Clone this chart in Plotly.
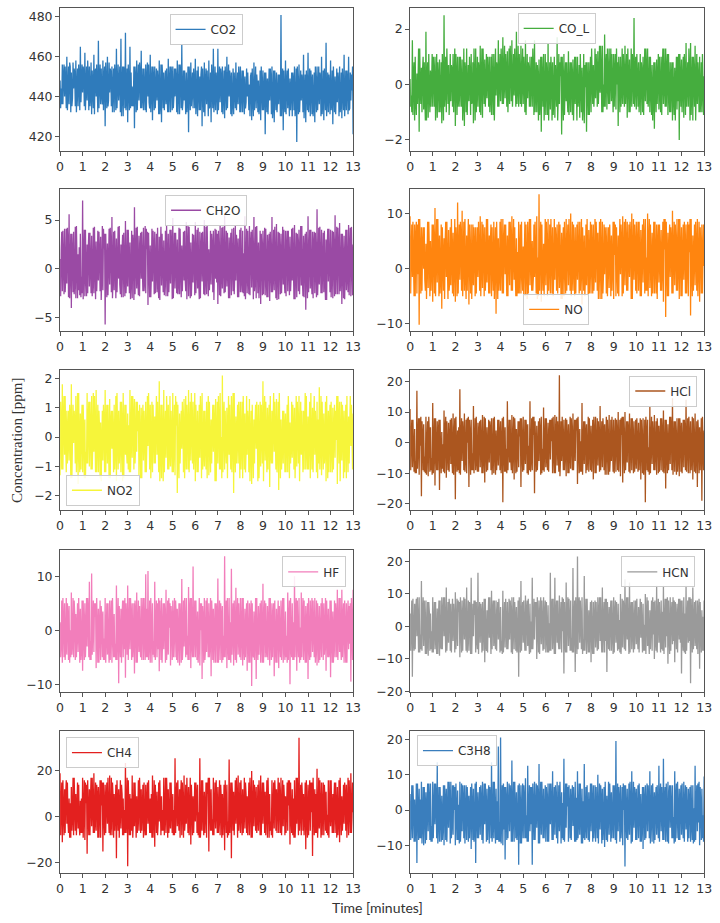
import plotly.graph_objects as go

# sampling grids (minutes): samples at t, t+0.025, t+0.05, t+0.075 for t = 0, 0.1, ..., 12.9 and a final one at 13
t_main = [round(i * 0.1, 3) for i in range(131)]
t_q1 = [round(i * 0.1 + 0.025, 3) for i in range(130)]
t_mid = [round(i * 0.1 + 0.05, 3) for i in range(130)]
t_q3 = [round(i * 0.1 + 0.075, 3) for i in range(130)]

names = ["CO2", "CO_L", "CH2O", "NO", "NO2", "HCl", "HF", "HCN", "CH4", "C3H8"]

# ---------------- CO2 ----------------
co2_main = [448, 456, 440, 460, 436, 452, 444, 458, 435, 465,
            442, 462, 438, 455, 431, 461, 440, 468, 436, 458,
            425, 460, 442, 455, 432, 464, 438, 469, 430, 472,
            427, 465, 445, 424, 458, 438, 463, 433, 456, 440,
            461, 428, 455, 438, 458, 427, 452, 436, 459, 432,
            455, 440, 458, 431, 466, 438, 452, 422, 457, 434,
            459, 430, 450, 425, 457, 436, 458, 427, 464, 433,
            464, 437, 455, 429, 460, 440, 452, 431, 457, 436,
            455, 432, 450, 440, 446, 428, 457, 434, 448, 428,
            453, 421, 449, 438, 455, 427, 452, 436, 481, 423,
            458, 434, 449, 430, 455, 417, 456, 438, 461, 427,
            462, 430, 451, 427, 455, 436, 460, 428, 467, 432,
            458, 426, 450, 437, 455, 429, 461, 433, 460, 438,
            421]
co2_q1 = [434, 436, 455, 433, 457, 435, 454, 432, 456, 437,
          455, 433, 458, 435, 453, 431, 456, 434, 454, 433,
          457, 435, 454, 432, 456, 434, 453, 430, 455, 433,
          456, 434, 435, 455, 433, 457, 434, 454, 432, 456,
          432, 455, 434, 453, 431, 456, 433, 454, 432, 455,
          434, 454, 431, 456, 433, 453, 432, 455, 435, 454,
          431, 455, 433, 454, 430, 453, 434, 456, 432, 452,
          433, 454, 431, 455, 434, 453, 430, 452, 433, 455,
          432, 453, 434, 452, 430, 454, 433, 451, 431, 455,
          433, 452, 431, 454, 429, 453, 432, 451, 430, 453,
          431, 454, 433, 452, 430, 455, 432, 451, 429, 453,
          432, 453, 430, 455, 433, 452, 431, 454, 430, 451,
          433, 455, 431, 452, 432, 454, 430, 453, 433, 451]
co2_mid = [444, 450, 447, 441, 455, 439, 451, 446, 449, 443,
           452, 445, 449, 440, 447, 452, 444, 448, 441, 450,
           446, 438, 452, 443, 449, 441, 455, 445, 450, 439,
           447, 452, 436, 449, 444, 451, 440, 446, 448, 437,
           445, 449, 442, 447, 436, 450, 444, 441, 446, 451,
           440, 448, 443, 452, 437, 446, 441, 449, 444, 447,
           438, 445, 451, 441, 447, 443, 436, 449, 440, 446,
           443, 450, 439, 447, 442, 448, 437, 445, 441, 449,
           440, 446, 437, 444, 450, 439, 443, 446, 436, 447,
           441, 445, 438, 449, 436, 444, 440, 447, 442, 438,
           446, 440, 443, 448, 435, 445, 441, 447, 439, 444,
           441, 447, 436, 445, 442, 449, 437, 444, 440, 446,
           437, 445, 441, 447, 436, 444, 440, 448, 434, 443]
co2_q3 = [436, 456, 434, 455, 432, 457, 435, 454, 433, 456,
          435, 455, 433, 457, 434, 454, 432, 456, 436, 455,
          434, 457, 435, 454, 433, 456, 432, 455, 434, 454,
          433, 435, 455, 432, 456, 434, 454, 433, 457, 434,
          455, 433, 454, 431, 456, 434, 453, 432, 455, 433,
          454, 432, 456, 434, 453, 431, 455, 433, 452, 434,
          453, 433, 455, 432, 454, 430, 452, 434, 455, 431,
          455, 432, 453, 433, 456, 431, 454, 434, 452, 432,
          453, 431, 454, 433, 452, 430, 455, 432, 453, 433,
          452, 432, 454, 431, 453, 433, 451, 430, 454, 432,
          453, 430, 452, 433, 454, 431, 453, 432, 451, 433,
          454, 431, 452, 432, 455, 430, 453, 433, 452, 431,
          453, 432, 454, 430, 452, 433, 453, 431, 452, 455]

# ---------------- CO_L ----------------
co_l_main = [0.2, 1.6, -1.3, 0.4, -1.7, 0.6, -0.9, 1.9, -1.2, 0.5,
             -0.8, 1.0, -1.2, 0.9, -1.4, 2.5, -1.0, 0.7, -0.6, 1.1,
             -1.5, 1.0, -0.8, 0.9, -1.5, 1.3, -0.6, 1.1, -1.4, 1.3,
             -0.8, 1.4, -1.2, 0.9, -0.5, 1.0, -1.1, 1.1, -0.4, 1.6,
             -0.6, 1.7, -0.5, 1.2, -0.7, 1.6, -0.4, 1.9, -0.8, 1.4,
             -0.7, 1.6, -0.5, 1.0, -0.8, 1.6, -1.0, 0.9, -1.7, 1.1,
             -1.1, 1.5, -0.9, 0.8, -1.2, 1.7, -0.7, -1.8, 1.1, -0.6,
             1.2, -1.0, 0.9, -0.7, 1.0, -1.2, 0.6, -1.4, -1.7, 0.8,
             -1.0, 0.7, -0.5, 1.2, -0.3, 1.4, 1.8, -0.9, 1.3, -0.6,
             1.1, -0.9, -1.5, 1.0, -0.7, 1.4, -1.2, 0.9, -0.8, 2.4,
             -0.9, 0.8, -1.1, 1.0, -0.6, 1.3, -1.0, 0.7, -1.6, 0.9,
             -0.9, 1.0, -0.7, 1.3, -1.1, 0.8, -1.3, 0.6, -0.9, -2.0,
             0.9, -1.2, 1.5, -0.8, 1.5, -1.3, 1.4, -0.7, 1.0, -1.0,
             0.3]
co_l_q1 = [-0.8, -1.1, 1.0, -0.7, 1.3, -1.0, 0.8, -1.3, 1.1, -0.8,
           1.0, -1.3, 0.8, -1.0, 1.1, -0.8, 1.3, -1.1, 0.7, -1.0,
           1.1, -0.8, 1.0, -1.3, 0.8, -1.1, 1.0, -0.7, 1.3, -1.0,
           0.8, -1.1, 1.3, -0.8, 1.0, -1.0, 1.1, -1.3, 0.8, -0.8,
           1.3, -0.7, 1.1, -1.0, 1.4, -0.8, 1.3, -0.7, 1.1, -0.8,
           1.0, -1.1, 0.8, -0.8, 1.3, -1.0, 0.7, -1.1, 1.0, -1.3,
           0.8, -1.3, 1.0, -1.1, 0.7, -1.3, 0.8, 1.0, -1.1, 0.8,
           -1.1, 0.8, -1.3, 1.0, -0.8, 1.1, -1.3, 0.7, 0.8, -1.1,
           1.3, -0.8, 1.1, -0.7, 1.4, -1.0, -0.8, 1.3, -0.7, 1.1,
           -0.8, 1.3, 1.0, -0.8, 1.1, -0.7, 1.3, -1.0, 1.1, -0.8,
           1.1, -1.0, 0.8, -1.1, 1.3, -0.8, 1.0, -1.3, 0.8, -0.7,
           1.0, -1.1, 1.3, -0.8, 1.1, -1.0, 0.8, -1.3, 1.0, 1.1,
           -1.0, 1.1, -0.8, 1.3, -1.1, 1.0, -1.3, 0.8, -1.0, 1.1]
co_l_mid = [-0.4, 0.3, -0.6, 0.1, -0.2, 0.5, -0.5, 0.2, -0.3, 0.0,
            0.4, -0.3, 0.2, -0.5, 0.3, -0.2, 0.1, -0.4, 0.5, -0.1,
            0.3, -0.4, 0.2, -0.6, 0.4, -0.1, 0.3, -0.5, 0.2, -0.2,
            0.5, -0.3, 0.3, -0.1, 0.4, -0.4, 0.2, -0.2, 0.6, 0.0,
            0.4, 0.1, 0.5, -0.2, 0.6, 0.0, 0.4, -0.1, 0.5, 0.2,
            0.3, -0.2, 0.5, 0.0, 0.4, -0.3, 0.2, -0.5, 0.1, -0.4,
            0.2, -0.3, 0.4, -0.6, 0.1, -0.4, 0.3, -0.2, 0.0, -0.5,
            -0.2, 0.3, -0.5, 0.1, -0.4, 0.2, -0.6, -0.1, 0.0, -0.3,
            0.2, -0.2, 0.5, 0.1, 0.4, 0.0, 0.6, 0.2, 0.3, -0.1,
            0.4, 0.0, 0.3, -0.2, 0.5, 0.1, 0.2, -0.3, 0.4, 0.0,
            0.3, -0.2, 0.4, -0.1, 0.5, -0.3, 0.2, -0.4, 0.1, 0.3,
            -0.2, 0.4, 0.0, 0.5, -0.3, 0.2, -0.4, 0.1, -0.6, 0.2,
            -0.3, 0.4, -0.1, 0.5, -0.2, 0.3, -0.4, 0.2, -0.5, 0.1]
co_l_q3 = [-1.0, 0.8, -1.1, 1.3, -0.7, 1.0, -1.3, 0.8, -1.0, 1.1,
           -0.8, 1.1, -1.0, 0.8, -1.3, 1.0, -0.7, 1.1, -0.8, 1.3,
           -1.1, 1.0, -0.8, 1.3, -1.0, 0.7, -1.1, 0.8, -1.3, 1.0,
           -1.0, 1.3, -0.7, 1.1, -0.8, 1.0, -1.1, 1.3, -0.8, 1.1,
           -0.7, 1.4, -0.8, 1.3, -0.6, 1.1, -0.8, 1.4, -0.7, 1.3,
           -1.0, 1.1, -0.8, 1.0, -1.1, 0.8, -1.3, 1.0, -0.8, 1.1,
           -1.1, 0.8, -1.3, 1.0, -0.8, 1.1, 1.0, -1.3, 0.8, -1.0,
           0.8, -1.1, 1.0, -1.3, 0.7, -1.0, 1.1, 0.8, -1.1, 1.0,
           -0.7, 1.3, -0.8, 1.4, -1.0, -0.8, 1.1, -0.7, 1.3, -1.0,
           1.1, 0.8, -1.0, 1.3, -0.8, 1.1, -1.0, 1.3, -0.7, 1.0,
           -0.8, 1.1, -1.0, 1.3, -0.7, 1.0, -1.1, 0.8, -1.0, 1.1,
           -1.0, 1.3, -0.8, 1.1, -1.0, 0.8, -1.1, 1.0, 1.1, -0.8,
           1.0, -1.1, 0.8, -1.3, 1.0, -0.8, 1.1, -1.0, 0.8, -1.1]

# ---------------- CH2O ----------------
ch2o_main = [1.0, -2.3, 4.1, -1.5, 5.6, -4.0, 3.8, -3.0, 1.5, 3.6,
             7.0, -2.8, 2.5, -1.8, 3.4, -2.5, 2.8, -1.2, 3.3, -2.2,
             -5.7, 2.6, -1.6, 5.3, -2.2, 3.1, -1.0, 2.5, -2.9, 4.9,
             -1.8, 2.7, -3.0, 6.3, -2.0, 3.4, -1.0, 4.2, -2.5, -3.7,
             2.4, -1.3, 3.8, -2.4, 3.3, -1.7, 2.9, -2.8, 3.6, -1.5,
             5.2, -2.0, 3.0, -2.6, 2.4, -1.2, 4.8, -2.8, 2.7, -1.4,
             4.8, -2.0, 3.8, -1.3, 5.0, -2.6, 2.0, -1.6, 3.9, -1.0,
             -3.6, 4.5, -2.0, 5.5, -1.8, 3.2, -2.7, 4.2, -1.2, 3.1,
             -2.4, 3.9, 5.4, -2.5, 4.4, -1.9, 5.3, -3.0, 2.7, -3.6,
             3.9, -2.7, 3.5, -3.3, 5.3, -2.2, 4.6, -3.1, 3.6, -1.6,
             3.9, -2.3, 3.3, -1.2, 4.5, -2.9, 4.0, -1.7, 3.4, -4.2,
             5.4, -2.0, 3.8, -2.5, 6.1, -1.6, 4.0, -2.4, 3.0, -1.3,
             4.0, -3.0, 5.5, -2.6, 4.7, -3.6, 3.4, -2.2, 4.5, -2.8,
             2.5]
ch2o_q1 = [-2.8, 3.9, -2.4, 4.2, -3.0, 3.6, -2.6, 4.4, -2.2, -2.9,
           -3.1, 4.0, -2.5, 3.7, -2.8, 4.3, -2.3, 3.8, -3.2, 4.1,
           3.6, -2.7, 4.2, -3.0, 3.9, -2.4, 4.4, -2.9, 3.7, -2.5,
           4.0, -3.1, 3.5, -2.6, 4.3, -2.8, 3.8, -2.3, 4.1, 3.7,
           -2.9, 3.9, -2.5, 4.2, -3.2, 3.6, -2.7, 4.5, -2.4, 4.0,
           -3.0, 3.7, -2.6, 4.1, -2.3, 3.9, -3.1, 4.3, -2.8, 3.5,
           -2.5, 4.2, -3.0, 3.8, -2.7, 4.4, -2.2, 3.6, -3.2, 4.0,
           3.9, -2.8, 4.3, -2.4, 3.7, -3.0, 4.1, -2.6, 3.5, -2.9,
           4.2, -2.5, -3.1, 3.9, -2.7, 4.0, -2.3, 4.4, -3.0, 3.6,
           -2.6, 4.1, -2.9, 3.8, -2.4, 4.3, -3.2, 3.7, -2.5, 4.0,
           -2.8, 3.9, -2.3, 4.2, -3.1, 3.6, -2.6, 4.4, -2.9, 3.8,
           -2.4, 4.0, -3.0, 3.7, -2.7, 4.3, -2.5, 3.9, -3.2, 4.1,
           -2.9, 3.8, -2.6, 4.2, -2.3, 3.6, -3.1, 4.0, -2.7, 4.3]
ch2o_mid = [2.0, 0.5, -1.0, 2.5, -0.5, 1.5, -1.5, 0.8, 2.2, -0.8,
            1.2, -0.5, 2.0, 0.3, -1.2, 1.8, -0.3, 1.5, -0.8, 2.1,
            -1.0, 0.6, 2.2, -0.9, 1.4, 0.2, -1.6, 1.9, 0.0, -0.7,
            1.6, -1.1, 2.3, 0.4, -0.8, 1.7, 0.1, -1.3, 2.0, 0.3,
            -0.6, 1.8, 0.2, -1.4, 2.1, 0.5, -0.9, 1.3, -0.2, 2.4,
            -0.8, 1.0, -1.5, 1.9, 0.4, -1.1, 2.2, 0.0, -0.6, 1.6,
            0.3, -1.2, 2.0, 0.7, -0.9, 1.5, -0.3, 2.3, 0.1, -1.4,
            1.2, -0.5, 2.1, 0.0, -1.0, 1.8, 0.4, -0.7, 2.0, 0.6,
            -1.1, 1.6, 0.2, -0.9, 2.4, 0.8, -1.3, 1.1, -0.2, 1.9,
            0.5, -1.0, 2.2, 0.1, -0.8, 1.7, -0.4, 1.3, 0.3, -1.2,
            2.0, 0.4, -0.7, 1.5, -0.2, 2.3, 0.6, -1.1, 1.8, 0.0,
            1.1, -0.9, 2.5, 0.3, -0.6, 1.9, 0.2, -1.2, 2.1, 0.7,
            -0.5, 1.6, 0.0, 2.2, -1.0, 1.2, 0.4, -0.8, 2.0, 0.9]
ch2o_q3 = [3.8, -2.6, 4.1, -2.9, 3.6, -2.4, 4.3, -3.0, -2.7, -2.5,
           4.0, -2.8, 3.7, -2.5, 4.2, -3.1, 3.9, -2.3, 4.4, 3.6,
           -2.9, 4.1, -2.4, 3.8, -3.0, 4.3, -2.6, 3.5, -2.8, 4.0,
           -2.5, 3.9, -3.2, 4.2, -2.7, 3.7, -2.3, 4.4, 3.8, -2.9,
           4.1, -2.6, 3.6, -3.0, 4.3, -2.4, 3.9, -2.8, 4.0, -3.1,
           3.7, -2.5, 4.2, -2.9, 3.8, -2.3, 4.4, -3.0, 3.6, -2.7,
           4.0, -3.1, 3.7, -2.6, 4.3, -2.8, 3.9, -2.4, 4.1, 3.6,
           -2.7, 4.2, -2.5, 3.9, -3.0, 3.7, -2.3, 4.4, -2.9, 4.0,
           -2.4, -2.8, 4.1, -2.6, 3.8, -3.1, 4.3, -2.5, 3.9, -2.7,
           4.2, -2.9, 3.6, -2.4, 4.0, -3.0, 3.8, -2.6, 4.3, -2.5,
           3.9, -2.7, 4.1, -3.1, 3.7, -2.3, 4.4, -2.8, 3.6, -3.0,
           4.0, -2.6, 3.8, -2.9, 4.2, -2.5, 3.7, -3.2, 4.1, -2.4,
           3.9, -2.8, 4.3, -2.6, 3.6, -3.0, 4.0, -2.4, 4.2, -2.7]

# ---------------- NO ----------------
no_main = [9.5, -1.5, 8.0, -4.5, -10.2, 7.5, 0.0, 4.5, -3.5, 5.0,
           -6.0, 11.0, -2.5, 6.0, -7.3, 5.5, -1.5, 7.0, -3.0, 6.5,
           -6.0, 12.0, -2.0, 10.5, -4.0, 6.0, -6.5, 8.0, -3.0, 7.5,
           -1.5, 9.5, -3.5, 7.5, -2.5, 6.0, -5.0, 8.5, -8.2, 5.5,
           -4.0, 9.0, -1.0, 6.0, -3.0, 9.5, -2.0, 5.5, 8.5, -4.5,
           4.0, -5.0, 8.5, -3.0, 5.0, -1.5, 9.5, 13.5, -6.0, 4.5,
           -3.0, 9.0, -4.5, 7.5, -2.0, 8.0, -3.5, 6.5, -5.0, 9.0,
           -3.0, 10.0, -4.0, 7.5, -2.0, 8.5, -6.5, 6.0, -3.0, 7.0,
           -4.5, 8.0, -2.5, 6.5, -5.5, 8.5, -1.0, 7.5, -3.5, 6.0,
           -5.5, -5.0, 6.0, -1.0, 9.5, -3.0, 8.5, -1.5, 10.0, -2.0,
           8.5, -4.0, 7.0, -2.5, 9.0, 10.0, -3.5, 6.5, -4.5, 8.0,
           -2.5, 7.0, -6.0, -8.8, 6.5, -1.5, 10.5, -3.0, 9.0, -5.5,
           7.5, -2.0, 8.0, -5.0, -8.5, 6.0, -3.0, 9.0, -6.0, 8.0,
           0.5]
no_q1 = [-4.5, 8.5, -5.0, 8.0, 9.0, -4.0, 7.5, -5.5, 8.5, -4.0,
         8.0, -5.0, 9.0, -4.5, 7.5, -5.5, 8.5, -4.0, 9.0, -5.0,
         7.5, -4.5, 8.5, -5.0, 9.0, -4.0, 8.0, -5.5, 7.5, -4.5,
         8.5, -5.0, 8.0, -4.0, 9.0, -4.5, 7.5, -5.5, 8.5, -4.0,
         9.0, -4.5, 8.0, -5.0, 8.5, -4.0, 7.5, -5.0, -4.5, 8.5,
         -5.0, 8.0, -4.5, 9.0, -4.0, 8.5, -5.5, -4.0, 8.0, -5.0,
         8.5, -4.0, 9.0, -5.0, 7.5, -4.5, 8.0, -5.5, 8.5, -4.0,
         9.0, -5.0, 8.0, -4.5, 8.5, -4.0, 7.5, -5.0, 9.0, -4.5,
         8.0, -4.0, 8.5, -5.5, 9.0, -4.5, 7.5, -5.0, 8.0, -4.0,
         8.5, 7.5, -5.0, 8.0, -4.5, 9.0, -4.0, 8.5, -5.5, 8.0,
         -4.5, 8.5, -5.0, 9.0, -4.0, -5.0, 8.0, -4.5, 8.5, -5.5,
         8.0, -4.0, 9.0, 8.5, -5.0, 7.5, -4.5, 8.0, -4.0, 9.0,
         -5.0, 8.5, -4.5, 8.0, 9.0, -4.0, 8.5, -5.0, 7.5, -4.5]
no_mid = [3.0, 1.0, 5.5, -1.0, 2.0, 4.0, -2.0, 1.5, 3.5, 0.0,
          4.5, 1.0, 3.0, -1.5, 2.5, 5.0, 0.5, -2.0, 3.0, 1.0,
          4.0, 0.0, 5.5, 1.5, -1.0, 3.5, 2.0, -0.5, 4.5, 1.0,
          3.0, 0.5, 4.5, -1.0, 2.5, 5.0, 0.0, 2.0, 3.5, -1.5,
          2.0, 4.5, 0.5, 3.0, 5.5, 1.0, -1.0, 3.0, 2.0, 0.0,
          2.5, 0.0, 4.0, 1.5, -1.5, 3.5, 2.0, 4.5, -0.5, 2.5,
          4.0, 1.0, 3.0, -1.0, 5.0, 2.5, 0.0, 3.5, 1.0, 4.5,
          2.0, -1.0, 4.0, 1.0, 3.0, 0.5, 2.5, -1.5, 4.0, 1.5,
          3.0, 0.0, 5.0, 1.5, 2.0, -1.0, 4.5, 1.0, 3.0, 0.5,
          2.5, 0.0, 3.5, 5.0, 1.5, 4.0, 2.0, 5.5, 1.0, 3.5,
          4.0, 1.0, 3.0, 5.0, 2.0, 4.5, 0.5, 3.0, 1.5, 4.5,
          2.0, 0.5, 3.5, 1.0, 3.0, 5.0, 2.0, 4.0, 1.0, 3.0,
          2.0, 4.5, 1.5, 3.0, 0.0, 2.5, 4.0, 1.0, 3.5, 2.0]
no_q3 = [8.0, -5.0, 8.5, 9.0, -4.5, 7.5, -4.0, 8.5, -5.0, 8.0,
         -4.5, 9.0, -5.0, 8.0, -4.0, 8.5, -5.5, 7.5, -4.5, 9.0,
         -5.0, 8.0, -4.0, 8.5, -5.5, 9.0, -4.5, 8.0, -5.0, 7.5,
         -4.0, 8.5, -5.0, 9.0, -4.5, 8.0, -4.0, 7.5, -5.5, 8.5,
         -4.5, 8.0, -5.0, 8.5, -4.0, 9.0, -5.0, -4.5, 8.0, -4.0,
         8.5, -5.5, 9.0, -4.0, 8.0, -4.5, -5.0, 8.5, -4.0, 9.0,
         -5.0, 8.0, -4.5, 9.0, -4.0, 8.5, -5.5, 7.5, -4.5, 8.0,
         -4.0, 8.5, -5.0, 8.0, -4.5, 9.0, -4.0, 8.0, -5.0, 8.5,
         -4.5, 9.0, -4.0, 8.5, -5.5, 8.0, -4.5, 7.5, -5.0, 8.5,
         8.0, -4.5, 9.0, -5.0, 8.5, -4.0, 8.0, -5.5, 9.0, -4.0,
         8.5, -5.0, 8.0, -4.5, -4.0, 9.0, -5.0, 8.5, -4.5, 8.0,
         -4.0, 8.5, 9.0, -5.0, 8.0, -4.5, 8.5, -4.0, 9.0, -5.0,
         8.0, -4.5, 8.5, 9.0, -5.0, 8.0, -4.0, 8.5, -4.5, 8.0]

# ---------------- NO2 ----------------
no2_main = [-1.3, 1.8, -0.6, 0.9, -0.8, 1.8, -0.2, 1.4, -1.6, 0.8,
            -1.2, 0.6, 1.5, -1.0, 1.4, -0.5, 1.6, -1.2, 0.5, -0.8,
            1.6, -0.9, 1.3, -0.4, 1.1, -1.5, 0.9, -1.2, 1.5, -0.6,
            0.8, 1.6, -0.7, 1.3, -0.5, -1.3, 1.0, -0.8, 1.2, -0.3,
            1.1, -1.2, 0.7, -0.6, 1.9, -1.4, 1.6, -0.7, 1.1, -1.0,
            1.5, -1.3, -1.9, 0.8, -0.4, 1.3, -1.1, 1.6, -0.8, 1.2,
            -1.5, 0.9, -0.7, 1.5, -1.0, 1.2, -1.3, 0.6, -0.5, 1.3,
            -0.9, 1.5, 2.1, -1.1, 1.0, -0.6, 1.4, -1.9, 0.7, -0.9,
            1.2, -1.4, 0.8, -0.6, 1.3, -1.6, 0.6, -0.4, 1.1, -1.0,
            1.9, -0.8, 1.0, -1.7, 0.9, -0.5, 1.3, -1.8, 0.6, -0.9,
            0.8, -1.2, 0.5, -0.7, 1.0, -1.0, 1.4, -0.6, 0.9, -1.1,
            0.7, -1.4, 1.0, -0.6, 1.2, 1.7, -1.3, 0.8, -1.5, 0.9,
            -1.2, 1.0, -0.7, -1.6, 1.2, -0.8, 0.9, -1.4, 0.7, -0.3,
            0.8]
no2_q1 = [1.2, -1.1, 1.4, -0.9, 1.1, -1.4, 0.9, -1.2, 1.5, -1.1,
          1.1, -1.4, -0.9, 1.2, -1.1, 1.4, -1.2, 0.9, -1.5, 1.1,
          -1.2, 1.1, -1.4, 0.9, -1.1, 1.5, -0.9, 1.2, -1.4, 1.1,
          -1.1, -1.2, 1.4, -0.9, 1.2, 1.1, -1.4, 0.9, -1.2, 1.5,
          -1.4, 1.1, -0.9, 1.2, -1.5, 1.1, -1.2, 1.4, -1.1, 0.9,
          -1.2, 1.4, 1.1, -0.9, 1.2, -1.4, 1.1, -1.2, 1.5, -1.1,
          1.1, -1.2, 1.4, -1.1, 0.9, -1.4, 1.2, -0.9, 1.1, -1.5,
          1.4, -1.1, -1.2, 0.9, -1.4, 1.1, -1.2, 1.5, -0.9, 1.2,
          -1.1, 1.4, -1.2, 0.9, -1.5, 1.1, -0.9, 1.2, -1.4, 1.1,
          -1.5, 1.2, -1.1, 1.4, -0.9, 1.2, -1.2, 1.5, -1.1, 0.9,
          -1.2, 1.4, -0.9, 1.1, -1.4, 1.2, -1.5, 0.9, -1.1, 1.4,
          -1.1, 1.5, -1.2, 0.9, -1.4, -1.1, 1.2, -0.9, 1.4, -1.2,
          1.2, -1.1, 0.9, 1.4, -1.5, 1.1, -1.2, 1.4, -0.9, 1.1]
no2_mid = [0.3, 0.6, -0.2, 0.1, 0.7, -0.4, 0.5, 0.0, -0.3, 0.4,
           0.1, -0.5, 0.6, 0.2, -0.3, 0.5, -0.1, 0.3, -0.6, 0.4,
           0.2, -0.3, 0.5, 0.0, -0.4, 0.6, -0.2, 0.3, 0.1, -0.5,
           0.4, 0.0, 0.6, -0.3, 0.2, -0.5, 0.4, 0.1, -0.2, 0.5,
           -0.3, 0.2, 0.5, 0.0, -0.4, 0.3, -0.1, 0.6, -0.5, 0.2,
           -0.2, 0.4, -0.6, 0.1, 0.5, -0.3, 0.2, 0.0, 0.4, -0.4,
           0.3, -0.2, 0.6, -0.5, 0.1, 0.4, -0.3, 0.2, 0.5, -0.1,
           0.4, 0.0, 0.7, -0.3, 0.2, -0.5, 0.3, -0.4, 0.1, 0.5,
           -0.2, 0.3, -0.5, 0.4, 0.0, -0.3, 0.5, 0.1, -0.4, 0.2,
           0.6, -0.1, 0.3, -0.5, 0.4, 0.0, -0.3, 0.2, -0.4, 0.3,
           -0.1, 0.4, -0.3, 0.2, -0.5, 0.3, 0.1, -0.2, 0.5, -0.4,
           0.2, -0.3, 0.4, 0.0, 0.6, -0.2, 0.3, -0.5, 0.1, 0.4,
           -0.4, 0.2, -0.1, 0.5, -0.3, 0.3, 0.0, -0.2, 0.4, 0.1]
no2_q3 = [-1.1, 1.4, -1.2, 0.9, -1.4, 1.1, -0.9, 1.5, -1.2, 1.1,
          -1.4, -0.9, 1.2, -1.1, 1.5, -1.2, 1.1, -1.4, 0.9, -1.2,
          1.1, -1.4, 0.9, -1.2, 1.4, -1.1, 1.2, -1.5, 1.1, -0.9,
          -1.2, 1.4, -1.1, 1.2, 0.9, -1.4, 1.1, -1.2, 1.4, -1.1,
          1.2, -0.9, 1.4, -1.2, 1.1, -1.5, 0.9, -1.1, 1.4, -1.2,
          1.1, 1.2, -1.4, 0.9, -1.2, 1.4, -1.1, 1.2, -0.9, 1.5,
          -1.2, 1.1, -1.4, 0.9, -1.1, 1.4, -1.2, 1.1, -1.5, 1.2,
          -1.1, -1.4, 1.2, -0.9, 1.4, -1.1, 1.5, -1.2, 1.1, -1.4,
          1.2, -1.1, 1.4, -1.2, 0.9, -1.4, 1.1, -1.5, 1.2, -0.9,
          1.4, -1.2, 1.1, -0.9, 1.5, -1.1, 1.2, -1.4, 0.9, -1.2,
          1.1, -1.4, 1.2, -1.1, 1.4, -0.9, 1.2, -1.2, 1.5, -1.1,
          1.2, -1.1, 1.4, -1.2, -0.9, 1.4, -1.1, 1.2, -1.4, 1.1,
          -1.2, 1.1, 1.4, -0.9, 1.2, -1.4, 1.1, -1.2, 1.4, -1.1]

# ---------------- HCl ----------------
hcl_main = [11.0, -8.0, 4.5, 17.0, -10.5, -17.5, 6.0, 8.5, -11.0, 5.0,
            13.0, -14.0, 7.0, -15.5, 3.5, 10.5, -11.5, 6.5, -7.0, 9.5,
            -18.5, 4.0, 17.5, -6.0, 9.5, -10.0, -14.5, 7.5, 12.0, -9.0,
            6.5, -8.0, 9.0, -13.0, 5.0, -6.5, 8.0, -10.0, 4.0, -7.5,
            7.0, -19.5, 5.0, 13.5, -6.5, 9.0, -12.0, 4.5, -8.0, -14.5,
            8.5, -7.0, 6.0, 13.5, -9.0, -16.5, 5.5, -6.0, 8.5, 11.5,
            -8.0, 6.5, -5.5, -10.0, 9.0, -7.5, 22.0, -6.0, 7.5, -11.0,
            6.0, -8.5, 9.5, -6.0, -13.5, 4.5, 13.0, -7.0, 6.0, -9.5,
            5.5, -12.0, 8.5, -7.5, 12.0, -8.0, 6.0, -10.5, 9.0, -6.0,
            7.5, -9.5, 10.0, -11.0, -13.0, 10.0, -6.5, 9.5, -9.0, 7.0,
            -8.5, 6.5, -12.0, 8.0, -19.5, 7.5, 12.0, -7.0, 9.0, -10.5,
            5.5, -9.0, 10.5, -15.0, 6.0, -7.0, 14.5, -9.5, 8.0, -11.0,
            6.5, -8.0, 14.0, -10.0, 7.0, -12.0, 9.5, -14.5, 5.0, -19.0,
            4.0]
hcl_q1 = [-9.0, 7.5, -10.0, -8.5, 8.0, 7.0, -9.5, -10.5, 8.5, -9.0,
          -10.0, 8.0, -9.0, 7.5, -8.5, -10.0, 7.0, -9.5, 8.0, -10.5,
          8.5, -9.0, -10.5, 7.0, -9.5, 8.0, 7.5, -9.0, -10.0, 8.5,
          -9.5, 7.5, -10.0, 8.0, -9.0, 7.0, -10.5, 8.5, -9.0, 7.5,
          -10.0, 8.5, -9.5, -9.0, 7.5, -10.0, 8.0, -9.5, 7.0, 8.0,
          -9.0, 7.5, -10.5, -9.5, 8.5, 7.0, -9.0, 8.0, -10.0, -9.5,
          8.0, -9.5, 7.5, 8.5, -10.0, 7.0, -11.0, 8.5, -9.0, 7.5,
          -10.0, 8.0, -9.0, 7.5, 8.5, -9.5, -10.5, 7.0, -9.0, 8.0,
          -9.5, 8.5, -10.0, 7.0, -9.0, 8.0, -10.5, 7.5, -9.5, 8.5,
          -10.0, 7.5, -9.5, 8.0, 8.5, -9.0, 7.0, -10.0, 8.0, -9.5,
          8.0, -9.0, 7.5, -10.5, 8.5, -9.5, -10.0, 7.0, -9.0, 8.0,
          -9.5, 8.0, -10.0, 7.5, -9.0, 8.5, -10.5, 7.0, -9.5, 8.0,
          -10.0, 7.5, -9.5, 8.5, -9.0, 8.0, -10.0, 7.5, -9.0, 8.5]
hcl_mid = [2.0, -3.0, -6.0, 4.0, -1.0, 2.5, -4.5, 0.5, 3.0, -5.0,
           1.0, -2.5, 3.5, -4.0, -0.5, 4.0, -3.0, 1.5, -5.5, 2.0,
           -2.0, 5.0, -1.5, 3.0, -4.5, 0.0, 2.5, -3.5, 1.0, -6.0,
           3.5, -1.0, -4.0, 2.0, -2.5, 4.5, -5.0, 0.5, -3.0, 2.5,
           -4.0, 1.0, -2.0, 4.5, -5.5, 0.0, 3.0, -3.5, 2.0, -1.5,
           -3.0, 4.0, -1.0, -5.0, 2.5, 0.0, -4.0, 3.5, -2.0, 1.5,
           -4.5, 2.0, 0.5, -3.0, 3.5, -1.0, -5.0, 2.5, -2.5, 1.0,
           -3.5, 2.5, -1.5, 4.0, -4.0, 0.5, -2.0, 3.0, -5.0, 1.5,
           -2.0, 3.5, -4.5, 1.0, -1.5, 4.0, -3.0, 0.0, -5.5, 2.0,
           -1.0, 3.0, -4.0, 2.5, 0.0, -3.5, 4.5, -2.0, 1.5, -5.0,
           2.5, -3.0, 0.5, -4.5, 3.0, -1.5, -4.0, 2.0, -2.5, 4.0,
           -1.5, 3.0, -5.0, 1.0, -3.0, 4.5, -2.0, 0.5, -4.0, 3.5,
           -2.5, 4.0, -1.0, 2.0, -5.0, 1.5, -3.5, 3.0, -2.0, -0.5]
hcl_q3 = [7.5, -9.5, -10.0, 8.0, 8.5, -9.0, -10.0, 7.0, -9.5, -10.5,
          8.0, -9.0, 7.5, -10.0, -9.5, 8.5, -9.0, 7.5, -10.0, 8.0,
          -9.5, -10.0, 8.0, -9.0, 7.5, 8.5, -10.5, -9.0, 8.0, -9.5,
          7.0, -10.0, 8.5, -9.5, 7.5, -9.0, 8.0, -10.5, 7.5, -9.0,
          8.0, -9.5, -10.0, 7.5, -9.0, 8.5, -10.0, 7.0, 8.0, -9.5,
          7.5, -10.0, -9.0, 8.0, 8.5, -9.5, 7.0, -10.5, -9.0, 8.0,
          -9.0, 7.5, 8.0, -10.0, 8.5, -9.5, 7.0, -9.0, 8.0, -10.0,
          8.5, -9.0, 7.5, 8.0, -10.0, -9.5, 7.0, -10.0, 8.5, -9.0,
          7.5, -10.0, 8.0, -9.5, 7.0, -9.0, 8.5, -10.5, 7.5, -9.5,
          8.0, -9.0, 7.5, 8.5, -10.0, 7.0, -9.5, 8.0, -10.0, 7.5,
          -9.5, 8.0, -10.0, 7.5, -9.0, -10.5, 8.5, -9.0, 7.0, -10.0,
          8.0, -9.5, 7.5, -10.0, 8.5, -9.0, 7.0, -10.5, 8.0, -9.5,
          7.5, -9.0, 8.0, -10.0, 8.5, -9.5, 7.0, -10.0, 8.0, -9.0]

# ---------------- HF ----------------
hf_main = [1.5, -6.0, 5.0, -4.5, 4.5, 7.0, -5.0, 3.0, -4.0, 4.0,
           -7.5, 5.0, -3.0, 9.0, 10.5, -4.0, -7.0, 4.0, -5.5, 3.5,
           6.0, -4.5, 5.5, -6.0, 3.0, 8.3, -9.8, 4.0, -5.0, -8.8,
           8.3, -3.5, 5.0, -8.0, 7.0, -4.0, 6.0, -5.5, 10.4, 11.0,
           -6.0, 5.0, 9.0, -5.0, -7.6, 6.0, -3.5, 7.5, -4.5, -6.5,
           5.5, -5.0, 4.0, -6.5, 9.5, -3.0, 6.0, 8.0, -7.0, 11.8,
           -5.0, 3.5, -6.5, -9.0, 6.0, -4.0, 5.0, -8.5, 4.0, -6.0,
           9.6, -5.5, 4.5, 13.7, -7.0, 6.0, 11.4, -6.5, 7.9, -4.5,
           6.0, -6.5, 4.0, -7.5, 5.0, -10.3, 3.5, -9.0, 4.5, -6.0,
           8.6, -5.0, 4.5, -6.5, 5.0, -8.5, 4.0, -7.0, 5.5, -6.0,
           3.5, 7.0, -10.0, 5.0, 10.0, -7.5, 6.0, 7.0, -5.5, 4.5,
           -9.0, 5.5, -4.0, 6.0, -6.5, 4.5, -5.0, 5.0, -7.5, 4.0,
           -8.7, 3.5, -5.0, 7.5, -4.0, 7.5, -6.0, 5.0, -3.5, -9.5,
           7.5]
hf_q1 = [-5.0, 6.0, -5.5, 5.0, -6.0, -4.5, 5.5, -5.0, 6.0, -5.5,
         5.5, -5.0, 6.0, -5.5, -4.5, 5.0, 6.0, -6.0, 4.5, -5.5,
         -6.0, 5.0, -5.5, 6.0, -5.0, -5.5, 4.5, -6.0, 5.5, 5.0,
         -5.5, 6.0, -5.0, 5.5, -6.0, 4.5, -5.5, 6.0, -5.0, -5.5,
         6.0, -4.5, -5.5, 5.0, 5.5, -6.0, 5.0, -5.5, 6.0, 4.5,
         -5.0, 5.5, -6.0, 5.0, -5.5, 6.0, -4.5, -5.5, 6.0, -5.0,
         5.5, -6.0, 5.0, 4.5, -5.5, 6.0, -5.0, 5.5, -6.0, 5.0,
         -6.0, 5.0, -5.5, -5.0, 6.0, -5.5, -4.5, 5.5, -6.0, 5.0,
         -5.5, 6.0, -5.0, 5.5, -6.0, 5.0, -5.5, 6.0, -4.5, 5.5,
         -6.0, 5.0, -5.5, 6.0, -5.0, 5.5, -6.0, 4.5, -5.5, 6.0,
         -5.0, -5.5, 6.0, -5.5, -5.0, 5.5, -6.0, -5.0, 5.5, -6.0,
         6.0, -5.0, 5.5, -6.0, 5.0, -5.5, 6.0, -4.5, 5.5, -5.0,
         5.5, -6.0, 5.0, -5.5, 6.0, -5.0, 5.5, -6.0, 4.5, 6.0]
hf_mid = [-2.0, 1.5, -3.0, 2.5, 0.0, -2.5, 3.0, -1.0, 1.5, -3.5,
          2.0, -1.5, 3.5, -2.0, 1.0, 2.5, -3.0, 0.5, 2.0, -1.5,
          1.0, -3.0, 2.0, 0.0, -2.5, 3.0, -1.5, 2.5, -3.5, 1.5,
          -1.0, 2.5, -2.0, 3.5, 0.5, -3.0, 2.0, -1.5, 4.0, -2.5,
          1.5, -2.0, 3.0, -3.5, 1.0, -1.0, 2.5, -2.5, 0.5, 2.0,
          -1.5, 3.0, -2.5, 1.0, -3.0, 2.5, -1.0, 3.5, -2.0, 0.5,
          1.5, -2.5, 0.0, 2.0, -3.5, 1.0, -2.0, 2.5, -1.5, 3.0,
          -2.0, 2.5, -1.0, 3.5, -3.0, 1.5, 0.0, -2.5, 2.0, -1.0,
          0.5, -3.0, 1.5, -2.0, 2.5, -4.0, 0.0, -2.5, 1.0, -1.5,
          2.0, -3.5, 1.0, -1.0, 2.5, -3.0, 0.5, -2.0, 1.5, -3.5,
          -1.0, 2.0, -3.0, 1.5, 3.0, -2.0, 0.5, 2.5, -1.5, 1.0,
          -2.5, 2.0, 0.0, -3.0, 1.5, -1.5, 2.5, -2.0, 0.5, -3.5,
          1.0, -2.0, 2.5, 0.0, -3.0, 2.0, -1.0, 1.5, -2.5, 0.5]
hf_q3 = [5.5, -5.0, 6.0, -5.5, -5.0, 6.0, -5.5, 5.0, -6.0, 5.5,
         -5.5, 6.0, -5.0, -5.5, 5.5, 5.0, -6.0, 5.5, -5.0, -5.5,
         5.0, -6.0, 5.5, -5.0, -5.5, 6.0, -5.0, 5.5, 6.0, -4.5,
         6.0, -5.5, 5.0, -6.0, 5.5, -5.0, 6.0, -5.5, -5.0, 5.5,
         -6.0, -5.0, 5.5, 6.0, -5.5, 5.0, -6.0, 5.5, 5.0, -5.5,
         6.0, -5.5, 5.0, -6.0, 5.5, -5.0, -5.5, 6.0, -5.0, 5.5,
         -5.5, 6.0, 5.0, -6.0, 5.5, -5.0, 6.0, -5.5, 5.0, -6.0,
         5.5, -6.0, -5.0, 5.5, -5.5, -6.0, 5.0, -5.5, 6.0, -5.0,
         6.0, -5.5, 5.0, -6.0, 5.5, -5.0, 6.0, -5.5, 5.0, -6.0,
         5.5, -5.0, 6.0, -5.5, 5.0, -6.0, 5.5, -5.0, 6.0, -5.5,
         -6.0, 5.5, -5.0, -5.5, 6.0, -5.0, -5.5, 6.0, -6.0, 5.0,
         -5.5, 6.0, -5.0, 5.5, -6.0, 5.0, -5.5, 6.0, -5.0, 5.5,
         -6.0, 5.5, -5.0, 6.0, -5.5, 5.0, -6.0, 5.5, 5.0, -5.5]

# ---------------- HCN ----------------
hcn_main = [4.0, -15.5, 7.0, -3.0, 9.0, 14.0, -6.0, 8.0, -9.0, 4.0,
            9.0, -7.0, 5.5, -9.0, 9.0, -3.0, 12.0, -5.0, 7.0, -4.5,
            10.5, -6.0, -9.5, 8.0, -4.0, 12.0, -7.5, 15.0, -3.0, -8.0,
            16.5, -5.0, 7.5, -11.0, 5.0, -3.5, 11.0, -6.0, 8.0, -4.0,
            6.0, 11.0, -6.5, 7.5, -4.0, 9.0, -7.0, 6.0, -15.5, 14.0,
            -5.0, 9.5, -6.0, 7.0, 15.0, -4.0, -10.0, 8.0, -5.5, 9.0,
            -8.0, 6.5, 16.5, -7.0, 15.0, -5.0, 9.5, -8.0, -14.5, 13.5,
            -6.0, 8.0, 18.0, -14.0, 21.5, -5.0, 9.0, 15.5, -8.5, 5.0,
            -11.0, 7.5, -6.5, 9.0, -4.5, 12.0, -8.0, -14.0, 6.0, -7.5,
            9.0, -5.0, 7.0, 10.0, -6.5, 14.5, -4.0, 13.5, -7.0, 8.0,
            -5.5, 6.0, -3.5, 7.0, 10.0, -6.0, 5.0, -7.5, -10.0, 12.5,
            -5.0, 8.0, 12.5, -6.5, -11.5, 9.0, -5.5, -11.0, 7.0, -4.0,
            -14.5, 9.0, 12.5, -5.0, -17.5, 12.0, -6.0, 8.0, -13.0, 5.0,
            8.0]
hcn_q1 = [-7.5, 8.5, -7.0, 9.0, -8.0, -7.5, 8.0, -8.5, 7.5, -7.0,
          -8.0, 7.5, -8.5, 8.0, -7.0, 9.0, -7.5, 8.5, -8.0, 7.0,
          -7.0, 8.0, 9.0, -7.5, 8.5, -8.0, 7.5, -8.5, 8.0, 7.5,
          -8.5, 7.0, -7.5, 8.5, -8.0, 9.0, -7.0, 8.0, -7.5, 8.5,
          -7.5, -8.0, 8.5, -7.0, 8.0, -8.5, 7.5, -8.0, 9.0, -7.5,
          8.0, -7.5, 8.5, -8.0, -7.0, 7.5, 9.0, -8.5, 8.0, -7.0,
          7.5, -8.0, -7.5, 8.5, -8.5, 8.0, -7.0, 9.0, 7.5, -8.0,
          8.5, -7.5, -8.0, 9.0, -7.0, 8.0, -8.5, -7.5, 8.5, -8.0,
          8.0, -8.5, 7.5, -7.0, 9.0, -8.0, 8.5, 7.5, -7.5, 8.0,
          -8.0, 7.5, -7.0, -8.5, 8.0, -7.5, 9.0, -8.0, 7.5, -7.0,
          8.5, -8.0, 7.5, -7.5, -8.5, 8.0, -7.0, 9.0, 8.0, -8.0,
          7.5, -7.0, -8.5, 8.5, 8.0, -7.5, 9.0, 7.5, -8.0, 8.5,
          8.0, -8.0, -7.5, 9.0, 8.5, -7.0, 8.0, -8.5, 7.5, -7.5]
hcn_mid = [2.0, -4.0, 5.0, 1.0, -2.5, 3.5, 0.0, -5.0, 4.5, -1.5,
           3.0, -3.5, 1.5, -6.0, 4.0, 0.5, -2.0, 5.5, -3.0, 2.0,
           -1.0, 4.5, -5.5, 2.0, 0.0, -3.0, 5.0, -2.5, 3.5, -4.0,
           1.5, 4.0, -2.0, -6.0, 3.0, -1.0, 5.0, -3.5, 2.5, 0.0,
           -4.5, 3.0, 0.5, -2.5, 4.5, -1.0, 2.0, -5.5, 1.0, 3.5,
           -2.0, 5.0, -4.0, 1.5, -1.0, 3.0, -5.5, 2.5, 0.0, 4.0,
           -3.0, 1.0, 5.5, -2.0, 3.5, -4.5, 2.0, -1.5, -5.0, 4.0,
           1.0, -3.5, 5.0, -2.0, 6.0, 0.5, -4.0, 3.0, -1.0, 2.0,
           -5.0, 2.5, -1.5, 4.0, -3.0, 1.0, -4.5, 0.0, 3.5, -2.0,
           4.0, -1.5, 2.0, -3.5, 5.5, 0.5, -2.5, 4.0, -1.0, 1.5,
           -3.0, 2.5, -1.0, 0.5, 3.5, -4.0, 1.5, -2.5, -4.5, 3.0,
           -1.5, 4.5, 0.0, -3.0, -2.0, 3.5, -4.5, 1.0, 2.5, -5.0,
           -3.0, 4.0, 1.0, -4.5, 2.5, 0.5, -3.5, 4.5, -2.0, 3.0]
hcn_q3 = [8.0, -7.5, 8.5, -8.0, -7.0, 9.0, -8.5, 7.5, -7.5, -8.0,
          7.5, -8.5, 8.0, -7.0, 9.0, -8.0, 7.5, -7.5, 8.5, -8.0,
          8.5, 7.5, -8.0, 9.0, -7.5, 8.0, -8.5, 7.0, 8.0, -7.0,
          7.5, -8.0, 8.5, -7.5, 9.0, -8.5, 8.0, -7.0, 7.5, -8.0,
          -8.5, 7.5, -7.0, 8.5, -8.0, 9.0, -7.5, 8.0, -8.0, 7.5,
          -7.5, 8.0, -8.5, -7.0, 8.5, 7.5, -8.0, 9.0, -7.5, 8.0,
          -8.0, -7.5, 8.5, -8.5, 8.0, -7.0, 7.5, 8.5, -8.0, 9.0,
          -7.5, -8.0, 8.0, -8.5, 9.0, -7.0, -7.5, 8.5, -8.0, 7.5,
          -8.5, 8.0, -7.5, 9.0, -8.0, 7.5, 8.5, -7.0, 8.0, -8.5,
          8.0, -7.5, -8.0, 8.5, -7.0, 9.0, -8.5, 7.5, -8.0, 8.0,
          -7.0, 8.5, -8.0, -7.5, 9.0, -8.5, 8.0, 7.5, -7.5, 8.5,
          -8.0, -7.5, 8.5, 9.0, -8.5, 7.5, 8.0, -7.0, 8.5, 8.0,
          -7.5, -8.5, 8.0, 9.0, -8.0, 7.5, -7.0, 8.5, -8.0, -7.5]

# ---------------- CH4 ----------------
ch4_main = [19.0, -11.0, 12.0, -3.0, 8.0, 13.0, -8.0, 10.0, -5.0, 7.0,
            17.0, -10.0, -16.0, 12.0, -4.0, 19.0, -6.0, 13.0, -9.0, -15.0,
            14.0, -3.0, 18.0, -8.0, 10.0, -18.0, 12.0, -5.0, 8.0, 23.5,
            -21.5, 10.0, 18.0, -4.0, 9.0, -6.0, 12.0, -9.0, 14.0, -3.0,
            8.0, 18.0, -13.0, 11.0, -2.0, 9.0, 17.0, -7.0, 12.0, -5.0,
            10.0, 25.5, -4.0, 12.0, -8.0, 18.0, -3.0, 13.0, -12.0, 9.0,
            -2.0, 14.0, 25.5, -6.0, 11.0, -9.0, -15.0, 12.0, 17.0, -5.0,
            13.0, -8.0, 10.0, -14.5, 14.0, 25.0, -18.0, 11.0, -3.0, 18.0,
            -7.0, 12.0, -5.0, 9.0, -8.0, 20.0, -4.0, 13.0, -6.0, 18.0,
            -3.0, 11.0, -9.0, 10.0, 16.0, -5.0, 12.0, -7.0, 17.0, -4.0,
            9.0, -6.0, -12.0, 12.0, 16.0, -3.0, 34.5, -8.0, 10.0, -14.0,
            14.0, -6.0, -17.0, 12.0, 21.0, -5.0, 15.0, -8.0, 11.0, 16.0,
            -4.0, 10.0, -7.0, 13.0, -11.0, 9.0, -3.0, 14.0, -8.0, 19.0,
            2.0]
ch4_q1 = [-8, 16, -7, 15, -9, -6, 17, -8, 14, -7,
          -9, 15, 16, -8, 17, -7, 14, -9, 16, 15,
          -7, 17, -8, 15, -6, 16, -9, 14, -8, -7,
          16, -8, -9, 15, -7, 17, -6, 15, -8, 16,
          -7, -9, 14, -8, 16, -6, -8, 17, -7, 15,
          -8, -7, 16, -9, 15, -6, 17, -8, 14, -7,
          15, -8, -9, 16, -7, 15, 17, -6, -8, 16,
          -7, 14, -8, 16, -9, -7, 15, -8, 17, -6,
          16, -7, 15, -8, 17, -9, 14, -7, 16, -8,
          15, -8, 17, -6, -9, 16, -7, 15, -8, 14,
          -7, 16, 15, -8, -9, 17, -6, 15, -8, 16,
          -8, 15, 17, -7, -9, 16, -8, 14, -7, -9,
          16, -7, 15, -8, 17, -6, 15, -9, 16, -7]
ch4_mid = [5.0, 2.0, 10.0, -2.0, 6.0, 0.0, 9.0, 3.0, -4.0, 8.0,
           2.0, 6.0, 1.0, 8.0, 4.0, -2.0, 9.0, 0.0, 5.0, 3.0,
           7.0, 1.0, -3.0, 9.0, 2.0, 6.0, -1.0, 10.0, 3.0, 0.0,
           5.0, 8.0, -2.0, 6.0, 1.0, 9.0, 3.0, -4.0, 7.0, 2.0,
           10.0, 0.0, 5.0, -3.0, 8.0, 3.0, 1.0, 9.0, -2.0, 6.0,
           3.0, 7.0, 0.0, 10.0, 4.0, -2.0, 8.0, 1.0, 5.0, 2.0,
           9.0, 2.0, -3.0, 7.0, 3.0, 10.0, 1.0, -1.0, 6.0, 4.0,
           0.0, 8.0, 3.0, 6.0, -2.0, 5.0, 9.0, 2.0, 7.0, 0.0,
           6.0, 3.0, 10.0, -1.0, 7.0, 2.0, 8.0, 0.0, 5.0, 4.0,
           9.0, 1.0, 6.0, -2.0, 4.0, 10.0, 2.0, 7.0, 0.0, 8.0,
           3.0, 5.0, 1.0, 8.0, -3.0, 6.0, 2.0, 9.0, 4.0, 0.0,
           7.0, 2.0, 5.0, 10.0, -1.0, 6.0, 3.0, 8.0, 1.0, 5.0,
           2.0, 8.0, 4.0, -2.0, 6.0, 1.0, 9.0, 3.0, 5.0, 0.0]
ch4_q3 = [15, -8, 16, -7, -9, 17, -6, 15, -8, -7,
          16, 14, -8, 17, -7, 15, -9, 16, 15, -8,
          15, -7, 17, -9, 14, -6, 16, -8, -7, 17,
          -8, -6, 15, -9, 16, -7, 14, -8, 15, -7,
          -9, 16, -7, 15, -8, -6, 17, -9, 15, -7,
          -8, 15, -6, 16, -9, 14, -7, 17, -8, 15,
          -7, -9, 16, -8, 15, 17, -6, -8, 15, -7,
          16, -9, 14, -7, -8, 15, -6, 16, -9, 15,
          -8, 17, -7, 15, -9, 16, -6, 14, -8, 15,
          -7, 16, -9, -8, 15, -6, 17, -7, 16, -8,
          15, 16, -7, -9, 17, -8, 14, -6, 15, -9,
          16, 15, -8, -7, 17, -9, 15, -6, -8, 16,
          -7, 15, -9, 16, -8, 14, -6, 17, -7, 15]

# ---------------- C3H8 ----------------
c3h8_main = [4.5, -8.0, 3.0, -15.0, 6.0, 8.0, -10.0, 5.0, -6.0, 7.5,
             8.0, -4.0, 13.5, -9.0, 4.0, -10.0, 6.0, -5.0, 8.0, -7.0,
             -10.0, 5.5, 8.0, -6.0, 7.0, -8.5, 4.0, -11.0, 6.0, -15.0,
             5.0, -7.0, 8.0, -4.0, 6.0, -9.5, 13.5, -8.0, 6.0, 18.0,
             20.5, -10.0, -14.0, 8.0, -6.0, 14.0, -9.0, 5.0, -15.5, 7.0,
             -8.0, 9.0, 12.5, -6.0, -15.5, 8.0, -5.0, 13.0, -7.0, 6.0,
             -9.0, 7.5, -4.0, 11.0, -7.0, 8.0, -6.0, 5.0, 14.5, -5.0,
             -9.0, 6.0, -4.5, 8.0, 11.0, -7.0, 6.0, 13.0, -8.0, 5.0,
             -6.0, 7.0, -9.0, 10.0, -5.5, 6.0, -10.5, 4.0, -7.0, 5.0,
             -8.0, 19.5, -6.0, 7.0, -10.0, -16.0, 6.0, -7.0, 11.0, -5.0,
             6.0, -8.0, 4.5, -11.0, 7.0, -6.0, 11.0, -9.0, 5.0, -7.0,
             12.5, -6.0, 14.5, -9.0, 8.0, -5.0, 7.0, 11.0, -8.0, 6.0,
             -7.0, 8.0, -5.5, 6.0, -9.0, 7.0, 12.5, -6.0, -10.0, 6.0,
             9.5]
c3h8_q1 = [-8.5, 7.0, -9.0, 7.5, -8.0, -9.5, 6.5, -8.5, 7.5, -9.0,
           -8.0, 7.5, -9.5, 6.5, -8.5, 7.0, -9.0, 8.0, -8.0, 7.0,
           7.5, -8.5, -9.0, 7.0, -9.5, 6.5, -8.0, 7.5, -9.0, 8.0,
           -8.0, 7.0, -9.5, 7.5, -8.5, 6.5, -9.0, 8.0, -8.5, -9.0,
           -9.5, 7.5, 6.5, -8.0, 7.0, -9.0, 8.0, -8.5, 7.5, -9.5,
           7.0, -8.0, -9.0, 6.5, 7.5, -8.5, 7.0, -9.5, 8.0, -8.0,
           6.5, -9.0, 7.5, -8.5, 7.0, -9.5, 8.0, -8.0, -9.0, 7.5,
           7.0, -8.5, 6.5, -9.0, -8.0, 7.5, -9.5, -8.5, 7.0, -9.0,
           7.5, -8.0, 6.5, -9.5, 7.0, -8.5, 8.0, -9.0, 7.5, -8.0,
           7.0, -9.5, 6.5, -8.0, 7.5, 7.0, -8.5, 8.0, -9.0, 6.5,
           -8.5, 7.5, -9.0, 6.5, -8.0, 7.0, -9.5, 7.5, -8.5, 7.0,
           -9.0, 6.5, -8.5, 7.5, -9.5, 7.0, -8.0, -9.0, 8.0, -8.5,
           7.5, -9.0, 6.5, -8.0, 7.0, -9.5, -8.5, 7.5, 6.5, -8.0]
c3h8_mid = [-2.0, 1.5, -4.0, 0.0, 3.0, -3.5, 1.0, -1.5, 2.5, -4.5,
            0.5, 3.0, -2.5, 1.0, -4.0, 2.5, -1.0, 3.5, -3.0, 0.0,
            -2.5, 1.5, -4.5, 3.0, -1.0, 2.0, -3.5, 0.5, -5.0, 1.0,
            -1.5, 2.5, -3.0, 1.0, -2.0, 3.5, -4.0, 0.5, 2.5, -3.5,
            1.0, -5.5, 2.5, -1.5, 3.5, -3.0, 0.0, -4.5, 2.0, -2.5,
            3.0, -1.5, 2.5, -4.0, 1.0, -2.0, 3.5, -3.0, 0.5, -2.0,
            2.5, -3.5, 1.5, -1.0, 3.0, -4.0, 0.5, 2.0, -2.5, 1.0,
            -3.0, 2.0, -1.5, 3.5, -2.5, 0.0, 2.5, -4.0, 1.5, -1.0,
            2.0, -3.5, 1.0, -2.0, 3.0, -4.5, 0.5, -1.5, 2.5, -3.0,
            1.5, -2.5, 3.0, -4.0, 0.0, 2.0, -3.0, 1.5, -1.0, 3.5,
            -2.0, 1.0, -4.0, 2.5, -1.5, 3.0, -3.5, 0.5, 2.0, -2.5,
            3.5, -1.0, 2.0, -3.0, 4.0, 0.5, -2.0, 3.0, -1.5, 2.5,
            -3.0, 1.5, -2.0, 3.0, -4.0, 0.5, 2.0, -3.5, 1.0, -1.5]
c3h8_q3 = [7.0, -9.0, 7.5, -8.5, -8.0, 6.5, -9.5, 7.5, -8.5, -9.0,
           7.5, -8.0, 6.5, -9.0, 7.0, -8.5, 8.0, -9.5, 7.0, 6.5,
           -8.5, -9.5, 7.5, -8.0, 7.0, -9.0, 6.5, -8.5, 7.5, -8.0,
           6.5, -8.5, 7.5, -9.0, 7.0, -8.0, 8.0, -9.5, -8.5, -9.0,
           7.0, 6.5, -8.5, 7.5, -9.0, 8.0, -8.0, 7.0, -9.5, 7.5,
           -8.0, -9.0, 7.0, 6.5, -8.5, 7.5, -9.5, 8.0, -8.0, 7.0,
           -9.0, 7.5, -8.5, 6.5, -8.0, 7.0, -9.5, -8.5, 7.5, 6.5,
           -8.0, 7.0, -9.0, -8.5, 7.5, -9.5, -8.0, 6.5, -8.5, 7.5,
           -9.0, 7.0, -8.0, 7.5, -9.5, 6.5, -8.5, 8.0, -9.0, 7.0,
           -8.5, 7.5, -9.0, 6.5, 7.0, -8.0, 7.5, -9.5, 8.0, -8.5,
           7.0, -9.0, 6.5, -8.5, 7.5, -8.0, 7.0, -9.5, 6.5, -8.0,
           7.5, -8.5, 6.5, -9.0, 7.0, -8.0, -9.5, 7.5, -8.5, 7.0,
           -8.0, 7.0, -9.0, 6.5, -8.5, -9.0, 7.0, 8.0, -8.5, -9.0]

x_ticks = list(range(14))

series_main = [co2_main, co_l_main, ch2o_main, no_main, no2_main,
               hcl_main, hf_main, hcn_main, ch4_main, c3h8_main]
series_q1 = [co2_q1, co_l_q1, ch2o_q1, no_q1, no2_q1,
             hcl_q1, hf_q1, hcn_q1, ch4_q1, c3h8_q1]
series_mid = [co2_mid, co_l_mid, ch2o_mid, no_mid, no2_mid,
              hcl_mid, hf_mid, hcn_mid, ch4_mid, c3h8_mid]
series_q3 = [co2_q3, co_l_q3, ch2o_q3, no_q3, no2_q3,
             hcl_q3, hf_q3, hcn_q3, ch4_q3, c3h8_q3]

colors = ["#2f7bbb", "#45ad3e", "#9a4aa4", "#ff850f", "#f6f53a",
          "#ab561f", "#f27ebb", "#9a9a9a", "#e3201f", "#3a7ebd"]
y_ranges = [[412.5, 484.5], [-2.4, 2.76], [-6.35, 8.2], [-11.3, 14.5], [-2.47, 2.3],
            [-21.9, 23.9], [-11.5, 14.8], [-20.3, 23.4], [-24.5, 37.3], [-17.9, 22.3]]
y_dticks = [20, 2, 5, 10, 1, 10, 10, 10, 20, 10]

x_domains = [[0.0792, 0.4931], [0.5736, 0.9889]]
y_domains = [[0.8353, 0.9913], [0.6392, 0.7941], [0.4442, 0.5970],
             [0.2449, 0.3998], [0.0477, 0.2026]]

# legend placement: (x, y, xanchor, yanchor)
legend_pos = [(0.2854, 0.9848, "center", "top"),
              (0.7806, 0.9859, "center", "top"),
              (0.2854, 0.7876, "center", "top"),
              (0.7799, 0.6457, "center", "bottom"),
              (0.0875, 0.4485, "left", "bottom"),
              (0.9792, 0.5905, "right", "top"),
              (0.4833, 0.3933, "right", "top"),
              (0.9764, 0.3933, "right", "top"),
              (0.0875, 0.1961, "left", "top"),
              (0.5833, 0.1983, "left", "top")]


def merge_samples(main_vals, q1_vals, mid_vals, q3_vals):
    xs, ys = [], []
    for i in range(len(mid_vals)):
        xs += [t_main[i], t_q1[i], t_mid[i], t_q3[i]]
        ys += [main_vals[i], q1_vals[i], mid_vals[i], q3_vals[i]]
    xs.append(t_main[-1])
    ys.append(main_vals[-1])
    return xs, ys


fig = go.Figure()
layout = dict(
    width=720, height=923,
    margin=dict(l=0, r=0, t=0, b=0),
    paper_bgcolor="white", plot_bgcolor="white",
    font=dict(family="DejaVu Sans", size=12, color="#333333"),
    showlegend=True,
)

axis_common = dict(showline=True, mirror=True, linecolor="#555555", linewidth=1,
                   ticks="outside", ticklen=4, tickwidth=1, tickcolor="#555555",
                   showgrid=False, zeroline=False,
                   tickfont=dict(family="DejaVu Sans", size=12.5, color="#333333"))

for k in range(10):
    row, col = divmod(k, 2)
    sfx = "" if k == 0 else str(k + 1)
    leg = "legend" if k == 0 else "legend" + str(k + 1)
    xs, ys = merge_samples(series_main[k], series_q1[k], series_mid[k], series_q3[k])
    fig.add_trace(go.Scatter(
        x=xs, y=ys, mode="lines", name=names[k],
        line=dict(color=colors[k], width=1.3),
        xaxis="x" + sfx, yaxis="y" + sfx, legend=leg,
    ))
    layout["xaxis" + sfx] = dict(axis_common, domain=x_domains[col], range=[0, 13],
                                 tickvals=x_ticks, anchor="y" + sfx)
    layout["yaxis" + sfx] = dict(axis_common, domain=y_domains[row], range=y_ranges[k],
                                 dtick=y_dticks[k], anchor="x" + sfx)
    lx, ly, xa, ya = legend_pos[k]
    layout[leg] = dict(x=lx, y=ly, xanchor=xa, yanchor=ya, xref="paper", yref="paper",
                       bgcolor="rgba(255,255,255,0.85)", bordercolor="#cccccc",
                       borderwidth=1, font=dict(family="DejaVu Sans", size=12, color="#333333"),
                       itemwidth=30, tracegroupgap=0)

layout["annotations"] = [
    dict(text="Concentration [ppm]", x=0.018, y=0.52, xref="paper", yref="paper",
         textangle=-90, showarrow=False, xanchor="center", yanchor="middle",
         font=dict(family="Liberation Serif", size=15, color="#333333")),
    dict(text="Time [minutes]", x=0.527, y=0.0108, xref="paper", yref="paper",
         showarrow=False, xanchor="center", yanchor="middle",
         font=dict(family="Lato", size=14, color="#333333")),
]

fig.update_layout(**layout)
fig.write_html("out.html")
